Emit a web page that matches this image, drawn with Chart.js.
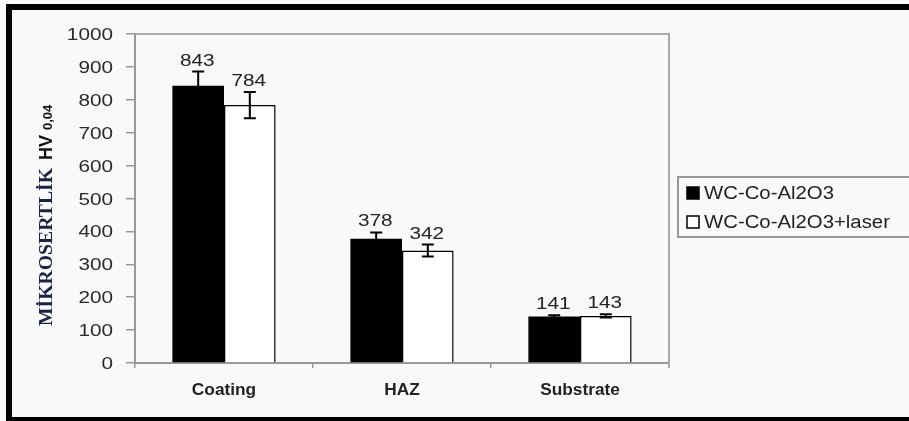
<!DOCTYPE html>
<html>
<head>
<meta charset="utf-8">
<script src="https://cdn.jsdelivr.net/npm/chart.js@4/dist/chart.umd.min.js"></script>
<style>
  html, body { margin: 0; padding: 0; background: #f9f9f9; }
  #wrap { width: 909px; height: 421px; position: relative; }
</style>
</head>
<body>
<div id="wrap"><canvas id="c" width="909" height="421"></canvas></div>
<script>
// Microhardness per zone
const categories = ['Coating', 'HAZ', 'Substrate'];
const seriesNames = ['WC-Co-Al2O3', 'WC-Co-Al2O3+laser'];
const coatingValues = [843, 378, 141];
const laserValues = [784, 342, 143];
const coatingErrors = [43, 19, 4];
const laserErrors = [40, 18, 5];
const yTicks = [0, 100, 200, 300, 400, 500, 600, 700, 800, 900, 1000];

const errors = [coatingErrors, laserErrors];
const SANS = '"Liberation Sans", Arial, sans-serif';

// text drawn a little wider than the font's natural width
function wideText(ctx, text, x, y, font, sx, align) {
  ctx.save();
  ctx.font = font;
  const w = ctx.measureText(text).width * sx;
  let left = x;
  if (align === 'center') left = x - w / 2;
  else if (align === 'right') left = x - w;
  ctx.translate(left, y);
  ctx.scale(sx, 1);
  ctx.textAlign = 'left';
  ctx.fillText(text, 0, 0);
  ctx.restore();
}

const framePlugin = {
  id: 'frame',
  beforeDraw(chart) {
    const ctx = chart.ctx;
    ctx.save();
    ctx.fillStyle = '#f9f9f9';
    ctx.fillRect(0, 0, chart.width, chart.height);
    ctx.fillStyle = '#000';
    ctx.fillRect(6, 4, chart.width - 6, 6);   // top
    ctx.fillRect(6, 4, 6, chart.height - 4);  // left
    ctx.fillRect(6, 417, chart.width - 6, 4); // bottom
    ctx.restore();
  },
  afterDatasetsDraw(chart) {
    const ctx = chart.ctx;
    const a = chart.chartArea;
    const y = chart.scales.y;
    const x = chart.scales.x;
    ctx.save();
    // top and right edges of the plot box
    ctx.strokeStyle = '#aaaaaa';
    ctx.lineWidth = 2;
    ctx.beginPath();
    ctx.moveTo(a.left, a.top);
    ctx.lineTo(a.right, a.top);
    ctx.lineTo(a.right, a.bottom + 5);
    ctx.stroke();

    // y tick labels
    ctx.fillStyle = '#2a2a2a';
    ctx.textBaseline = 'alphabetic';
    yTicks.forEach(v => {
      wideText(ctx, String(v), 113, y.getPixelForValue(v) + 6, '17px ' + SANS, 1.22, 'right');
    });

    // category labels
    ctx.fillStyle = '#222';
    categories.forEach((c, i) => {
      wideText(ctx, c, x.getPixelForValue(i), 395, 'bold 16px ' + SANS, 1.08, 'center');
    });

    // error bars and value labels
    chart.data.datasets.forEach((ds, di) => {
      const meta = chart.getDatasetMeta(di);
      meta.data.forEach((bar, i) => {
        const v = ds.data[i];
        const e = errors[di][i];
        const bx = bar.x;
        const yt = y.getPixelForValue(v + e);
        const yb = y.getPixelForValue(v - e);
        ctx.strokeStyle = '#000';
        ctx.lineWidth = 2;
        ctx.beginPath();
        ctx.moveTo(bx, yt); ctx.lineTo(bx, yb);
        ctx.moveTo(bx - 6, yt); ctx.lineTo(bx + 6, yt);
        ctx.moveTo(bx - 6, yb); ctx.lineTo(bx + 6, yb);
        ctx.stroke();
        ctx.fillStyle = '#222';
        wideText(ctx, String(v), bx - 1, yt - 6, '17px ' + SANS, 1.22, 'center');
      });
    });

    // y-axis title
    ctx.save();
    ctx.translate(52, 326);
    ctx.rotate(-Math.PI / 2);
    ctx.textAlign = 'left';
    ctx.textBaseline = 'alphabetic';
    ctx.fillStyle = '#1b2344';
    ctx.font = 'bold 18px "Liberation Serif", "Times New Roman", serif';
    const t1 = 'MİKROSERTLİK';
    const w1 = ctx.measureText(t1).width;
    ctx.save();
    ctx.scale(158 / w1, 1);
    ctx.fillText(t1, 0, 0);
    ctx.restore();
    let off = 166;
    ctx.fillStyle = '#111';
    ctx.font = 'bold 18px ' + SANS;
    ctx.fillText('HV', off, 0);
    off += ctx.measureText('HV').width + 5;
    ctx.font = 'bold 13px ' + SANS;
    ctx.fillText('0,04', off, 0);
    ctx.restore();

    // legend box
    const lx = 678, ly = 177, lh = 60;
    ctx.fillStyle = '#f9f9f9';
    ctx.fillRect(lx, ly, chart.width - lx, lh);
    ctx.strokeStyle = '#999';
    ctx.lineWidth = 2;
    ctx.beginPath();
    ctx.moveTo(chart.width + 2, ly);
    ctx.lineTo(lx, ly);
    ctx.lineTo(lx, ly + lh);
    ctx.lineTo(chart.width + 2, ly + lh);
    ctx.stroke();
    chart.data.datasets.forEach((ds, di) => {
      const base = 199 + di * 29;
      ctx.fillStyle = ds.backgroundColor;
      ctx.fillRect(687, base - 12, 12, 12);
      ctx.strokeStyle = '#000';
      ctx.lineWidth = 1.5;
      ctx.strokeRect(687, base - 12, 12, 12);
      ctx.fillStyle = '#222';
      wideText(ctx, ds.label, 704, base, '18px ' + SANS, 1.13, 'left');
    });
    ctx.restore();
  }
};

new Chart(document.getElementById('c'), {
  type: 'bar',
  data: {
    labels: categories,
    datasets: [
      { label: seriesNames[0], data: coatingValues, backgroundColor: '#000000', borderColor: '#000000', borderWidth: 0 },
      { label: seriesNames[1], data: laserValues, backgroundColor: '#ffffff', borderColor: '#000000', borderWidth: 1.5 }
    ]
  },
  options: {
    responsive: false,
    animation: false,
    devicePixelRatio: 1,
    layout: { padding: { left: 0, top: 34, right: 240, bottom: 0 } },
    datasets: { bar: { barPercentage: 1.0, categoryPercentage: 0.58 } },
    plugins: { legend: { display: false }, tooltip: { enabled: false } },
    scales: {
      x: {
        afterFit(s) { s.height = 58; },
        grid: { offset: true, drawOnChartArea: false, drawTicks: true, tickLength: 5, color: '#999', lineWidth: 1.5 },
        border: { display: true, color: '#999', width: 2 },
        ticks: { color: 'rgba(0,0,0,0)', font: { family: SANS, size: 13, weight: 'bold' } }
      },
      y: {
        min: 0, max: 1000,
        afterFit(s) { s.width = 135; },
        afterBuildTicks(s) { s.ticks = yTicks.map(v => ({ value: v })); },
        grid: { drawOnChartArea: false, drawTicks: true, tickLength: 9, color: '#999', lineWidth: 1.5 },
        border: { display: true, color: '#999', width: 2 },
        ticks: { color: 'rgba(0,0,0,0)', callback: v => String(v), font: { family: SANS, size: 16 } }
      }
    }
  },
  plugins: [framePlugin]
});
</script>
</body>
</html>
